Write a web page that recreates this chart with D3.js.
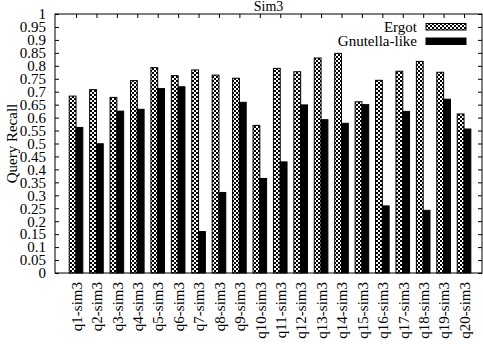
<!DOCTYPE html>
<html>
<head>
<meta charset="utf-8">
<script src="https://cdn.jsdelivr.net/npm/d3@7"></script>
<style>
    body { margin: 0; background: #fff; }
    text { font-family: "Liberation Serif", "DejaVu Serif", serif; fill: #000; }
</style>
</head>
<body>
<div id="chart"></div>
<script>
// DATA
// ================================================================================== //

const queries = ["q1-sim3", "q2-sim3", "q3-sim3", "q4-sim3", "q5-sim3", "q6-sim3", "q7-sim3",
    "q8-sim3", "q9-sim3", "q10-sim3", "q11-sim3", "q12-sim3", "q13-sim3", "q14-sim3",
    "q15-sim3", "q16-sim3", "q17-sim3", "q18-sim3", "q19-sim3", "q20-sim3"]

const ergot = [0.683, 0.708, 0.678, 0.743, 0.793, 0.762, 0.784, 0.764, 0.752, 0.570,
    0.790, 0.777, 0.830, 0.848, 0.661, 0.744, 0.779, 0.817, 0.775, 0.614]

const gnutella = [0.562, 0.499, 0.625, 0.632, 0.712, 0.719, 0.160, 0.311, 0.659, 0.365,
    0.429, 0.649, 0.592, 0.578, 0.650, 0.259, 0.624, 0.242, 0.671, 0.556]

const seriesNames = ["Ergot", "Gnutella-like"]

const yTicks = d3.range(0, 21).map(i => i / 20)
const yTickLabels = ["0", "0.05", "0.1", "0.15", "0.2", "0.25", "0.3", "0.35", "0.4", "0.45",
    "0.5", "0.55", "0.6", "0.65", "0.7", "0.75", "0.8", "0.85", "0.9", "0.95", "1"]

// ================================================================================== //
// DATA END


const width = 483
const height = 344
const margin = ({ top: 14, right: 1, bottom: 71, left: 55 })
const fontSize = 15

const svg = d3.select("#chart")
    .append("svg")
    .attr("width", width)
    .attr("height", height)
    .attr("viewBox", [0, 0, width, height])

// checkerboard fill used by the Ergot bars
const pattern = svg.append("defs")
    .append("pattern")
    .attr("id", "checker")
    .attr("patternUnits", "userSpaceOnUse")
    .attr("width", 4)
    .attr("height", 4)
pattern.append("rect").attr("width", 4).attr("height", 4).attr("fill", "#fff")
pattern.append("rect").attr("width", 2).attr("height", 2).attr("fill", "#000")
pattern.append("rect").attr("x", 2).attr("y", 2).attr("width", 2).attr("height", 2).attr("fill", "#000")

// group i sits at x = i, like gnuplot histograms
const x = d3.scaleLinear()
    .domain([-1.03, 19.88])
    .range([margin.left, width - margin.right])

const y = d3.scaleLinear()
    .domain([0, 1])
    .range([height - margin.bottom, margin.top])

const unit = x(1) - x(0)
const barW = unit / 3

const plot = svg.append("g")

// bars
plot.selectAll(".ergot")
    .data(ergot)
    .join("rect")
    .attr("class", "ergot")
    .attr("x", (d, i) => x(i) - barW)
    .attr("y", d => y(d))
    .attr("width", barW)
    .attr("height", d => y(0) - y(d))
    .attr("fill", "url(#checker)")
    .attr("stroke", "#000")
    .attr("stroke-width", 1)

plot.selectAll(".gnutella")
    .data(gnutella)
    .join("rect")
    .attr("class", "gnutella")
    .attr("x", (d, i) => x(i))
    .attr("y", d => y(d))
    .attr("width", barW)
    .attr("height", d => y(0) - y(d))
    .attr("fill", "#000")
    .attr("stroke", "#000")
    .attr("stroke-width", 1)

// y axis, ticks pointing inwards
const yAxis = g => g
    .attr("transform", `translate(${margin.left},0)`)
    .call(d3.axisLeft(y)
        .tickValues(yTicks)
        .tickSize(-4)
        .tickPadding(9)
        .tickFormat((d, i) => yTickLabels[i]))
    .call(g => g.select(".domain").remove())
    .call(g => g.selectAll("text")
        .attr("font-size", fontSize)
        .attr("font-family", "Liberation Serif"))

svg.append("g").call(yAxis)

// mirrored ticks on the right
svg.append("g")
    .attr("transform", `translate(${width - margin.right},0)`)
    .call(d3.axisRight(y).tickValues(yTicks).tickSize(-4).tickFormat(() => ""))
    .call(g => g.select(".domain").remove())

// x axis: labels rotated, ticks on top and bottom
const xAxis = g => g
    .attr("transform", `translate(0,${height - margin.bottom})`)
    .call(d3.axisBottom(x)
        .tickValues(d3.range(queries.length))
        .tickSize(-4)
        .tickFormat(i => queries[i]))
    .call(g => g.select(".domain").remove())
    .call(g => g.selectAll("text")
        .attr("font-size", fontSize)
        .attr("font-family", "Liberation Serif")
        .attr("text-anchor", "end")
        .attr("transform", "rotate(-90)")
        .attr("x", -9)
        .attr("y", 0)
        .attr("dy", "0.35em"))

svg.append("g").call(xAxis)

svg.append("g")
    .attr("transform", `translate(0,${margin.top})`)
    .call(d3.axisTop(x).tickValues(d3.range(queries.length)).tickSize(-4).tickFormat(() => ""))
    .call(g => g.select(".domain").remove())

// frame
svg.append("rect")
    .attr("x", margin.left)
    .attr("y", margin.top)
    .attr("width", width - margin.right - margin.left)
    .attr("height", height - margin.bottom - margin.top)
    .attr("fill", "none")
    .attr("stroke", "#000")
    .attr("stroke-width", 1)

// title
svg.append("text")
    .attr("x", (margin.left + width - margin.right) / 2)
    .attr("y", 11)
    .attr("text-anchor", "middle")
    .attr("font-size", fontSize - 1)
    .text("Sim3")

// y label
svg.append("text")
    .attr("transform", `translate(17,${(margin.top + height - margin.bottom) / 2}) rotate(-90)`)
    .attr("text-anchor", "middle")
    .attr("font-size", fontSize)
    .text("Query Recall")

// legend
const legend = svg.append("g")
    .selectAll("g")
    .data(seriesNames)
    .join("g")
    .attr("transform", (d, i) => `translate(0,${27 + i * 14.5})`)

legend.append("text")
    .attr("x", 417)
    .attr("y", 4.5)
    .attr("text-anchor", "end")
    .attr("font-size", fontSize)
    .text(d => d)

legend.append("rect")
    .attr("x", 426)
    .attr("y", -3.5)
    .attr("width", 40)
    .attr("height", 6.5)
    .attr("fill", (d, i) => i === 0 ? "url(#checker)" : "#000")
    .attr("stroke", "#000")
</script>
</body>
</html>
